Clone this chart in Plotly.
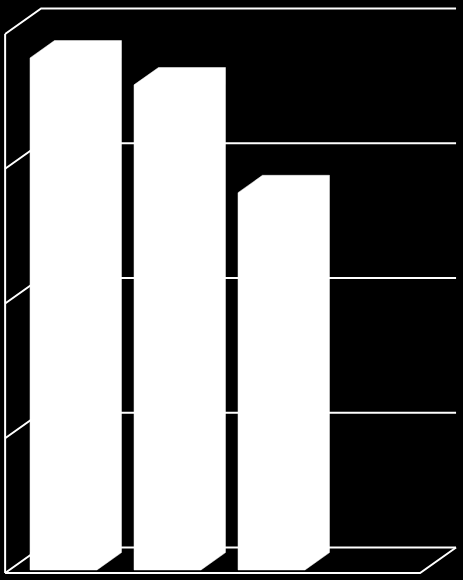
import plotly.graph_objects as go

# ---- data ----
categories = ["1", "2", "3"]
values = [95, 90, 70]
tick_values = [0, 25, 50, 75, 100]

# ---- pseudo-3D projection helpers (styling/geometry) ----
DX = 0.346   # x shift (category units) for full depth
DY = 4.73    # y shift (value units) for full depth
X_LEFT, X_RIGHT = -0.52, 3.47
BAR_HALF = 0.322
D_FRONT, D_BACK = 0.12, 0.80
LINE = dict(color="white", width=2)


def proj(u, v, d):
    return u + DX * d, v + DY * d


fig = go.Figure()

# walls & gridlines
for t in tick_values:
    pts = [proj(X_LEFT, t, 0), proj(X_LEFT, t, 1), proj(X_RIGHT, t, 1)]
    fig.add_trace(go.Scatter(x=[p[0] for p in pts], y=[p[1] for p in pts],
                             mode="lines", line=LINE, hoverinfo="skip",
                             showlegend=False))
# floor front edge + right edge
pts = [proj(X_LEFT, 0, 0), proj(X_RIGHT, 0, 0), proj(X_RIGHT, 0, 1)]
fig.add_trace(go.Scatter(x=[p[0] for p in pts], y=[p[1] for p in pts],
                         mode="lines", line=LINE, hoverinfo="skip",
                         showlegend=False))
# left wall front edge
pts = [proj(X_LEFT, 0, 0), proj(X_LEFT, max(tick_values), 0)]
fig.add_trace(go.Scatter(x=[p[0] for p in pts], y=[p[1] for p in pts],
                         mode="lines", line=LINE, hoverinfo="skip",
                         showlegend=False))

# bars (silhouette of a 3D box, all white)
for i, (c, v) in enumerate(zip(categories, values)):
    x0, x1 = i - BAR_HALF, i + BAR_HALF
    pts = [proj(x0, 0, D_FRONT), proj(x1, 0, D_FRONT), proj(x1, 0, D_BACK),
           proj(x1, v, D_BACK), proj(x0, v, D_BACK), proj(x0, v, D_FRONT),
           proj(x0, 0, D_FRONT)]
    fig.add_trace(go.Scatter(x=[p[0] for p in pts], y=[p[1] for p in pts],
                             mode="lines", fill="toself", fillcolor="white",
                             line=dict(color="white", width=0.5),
                             name=c, hoverinfo="name", showlegend=False))

fig.update_layout(
    width=463, height=580,
    margin=dict(l=0, r=0, t=0, b=0),
    paper_bgcolor="black", plot_bgcolor="black",
    xaxis=dict(range=[-0.5692, 3.8827], visible=False, fixedrange=True),
    yaxis=dict(range=[-1.299, 106.31], visible=False, fixedrange=True),
    showlegend=False,
)

fig.write_html(
    "out.html",
    config={"displayModeBar": False},
    post_script="document.body.style.margin='0';document.body.style.background='black';document.body.style.overflow='hidden';",
)
